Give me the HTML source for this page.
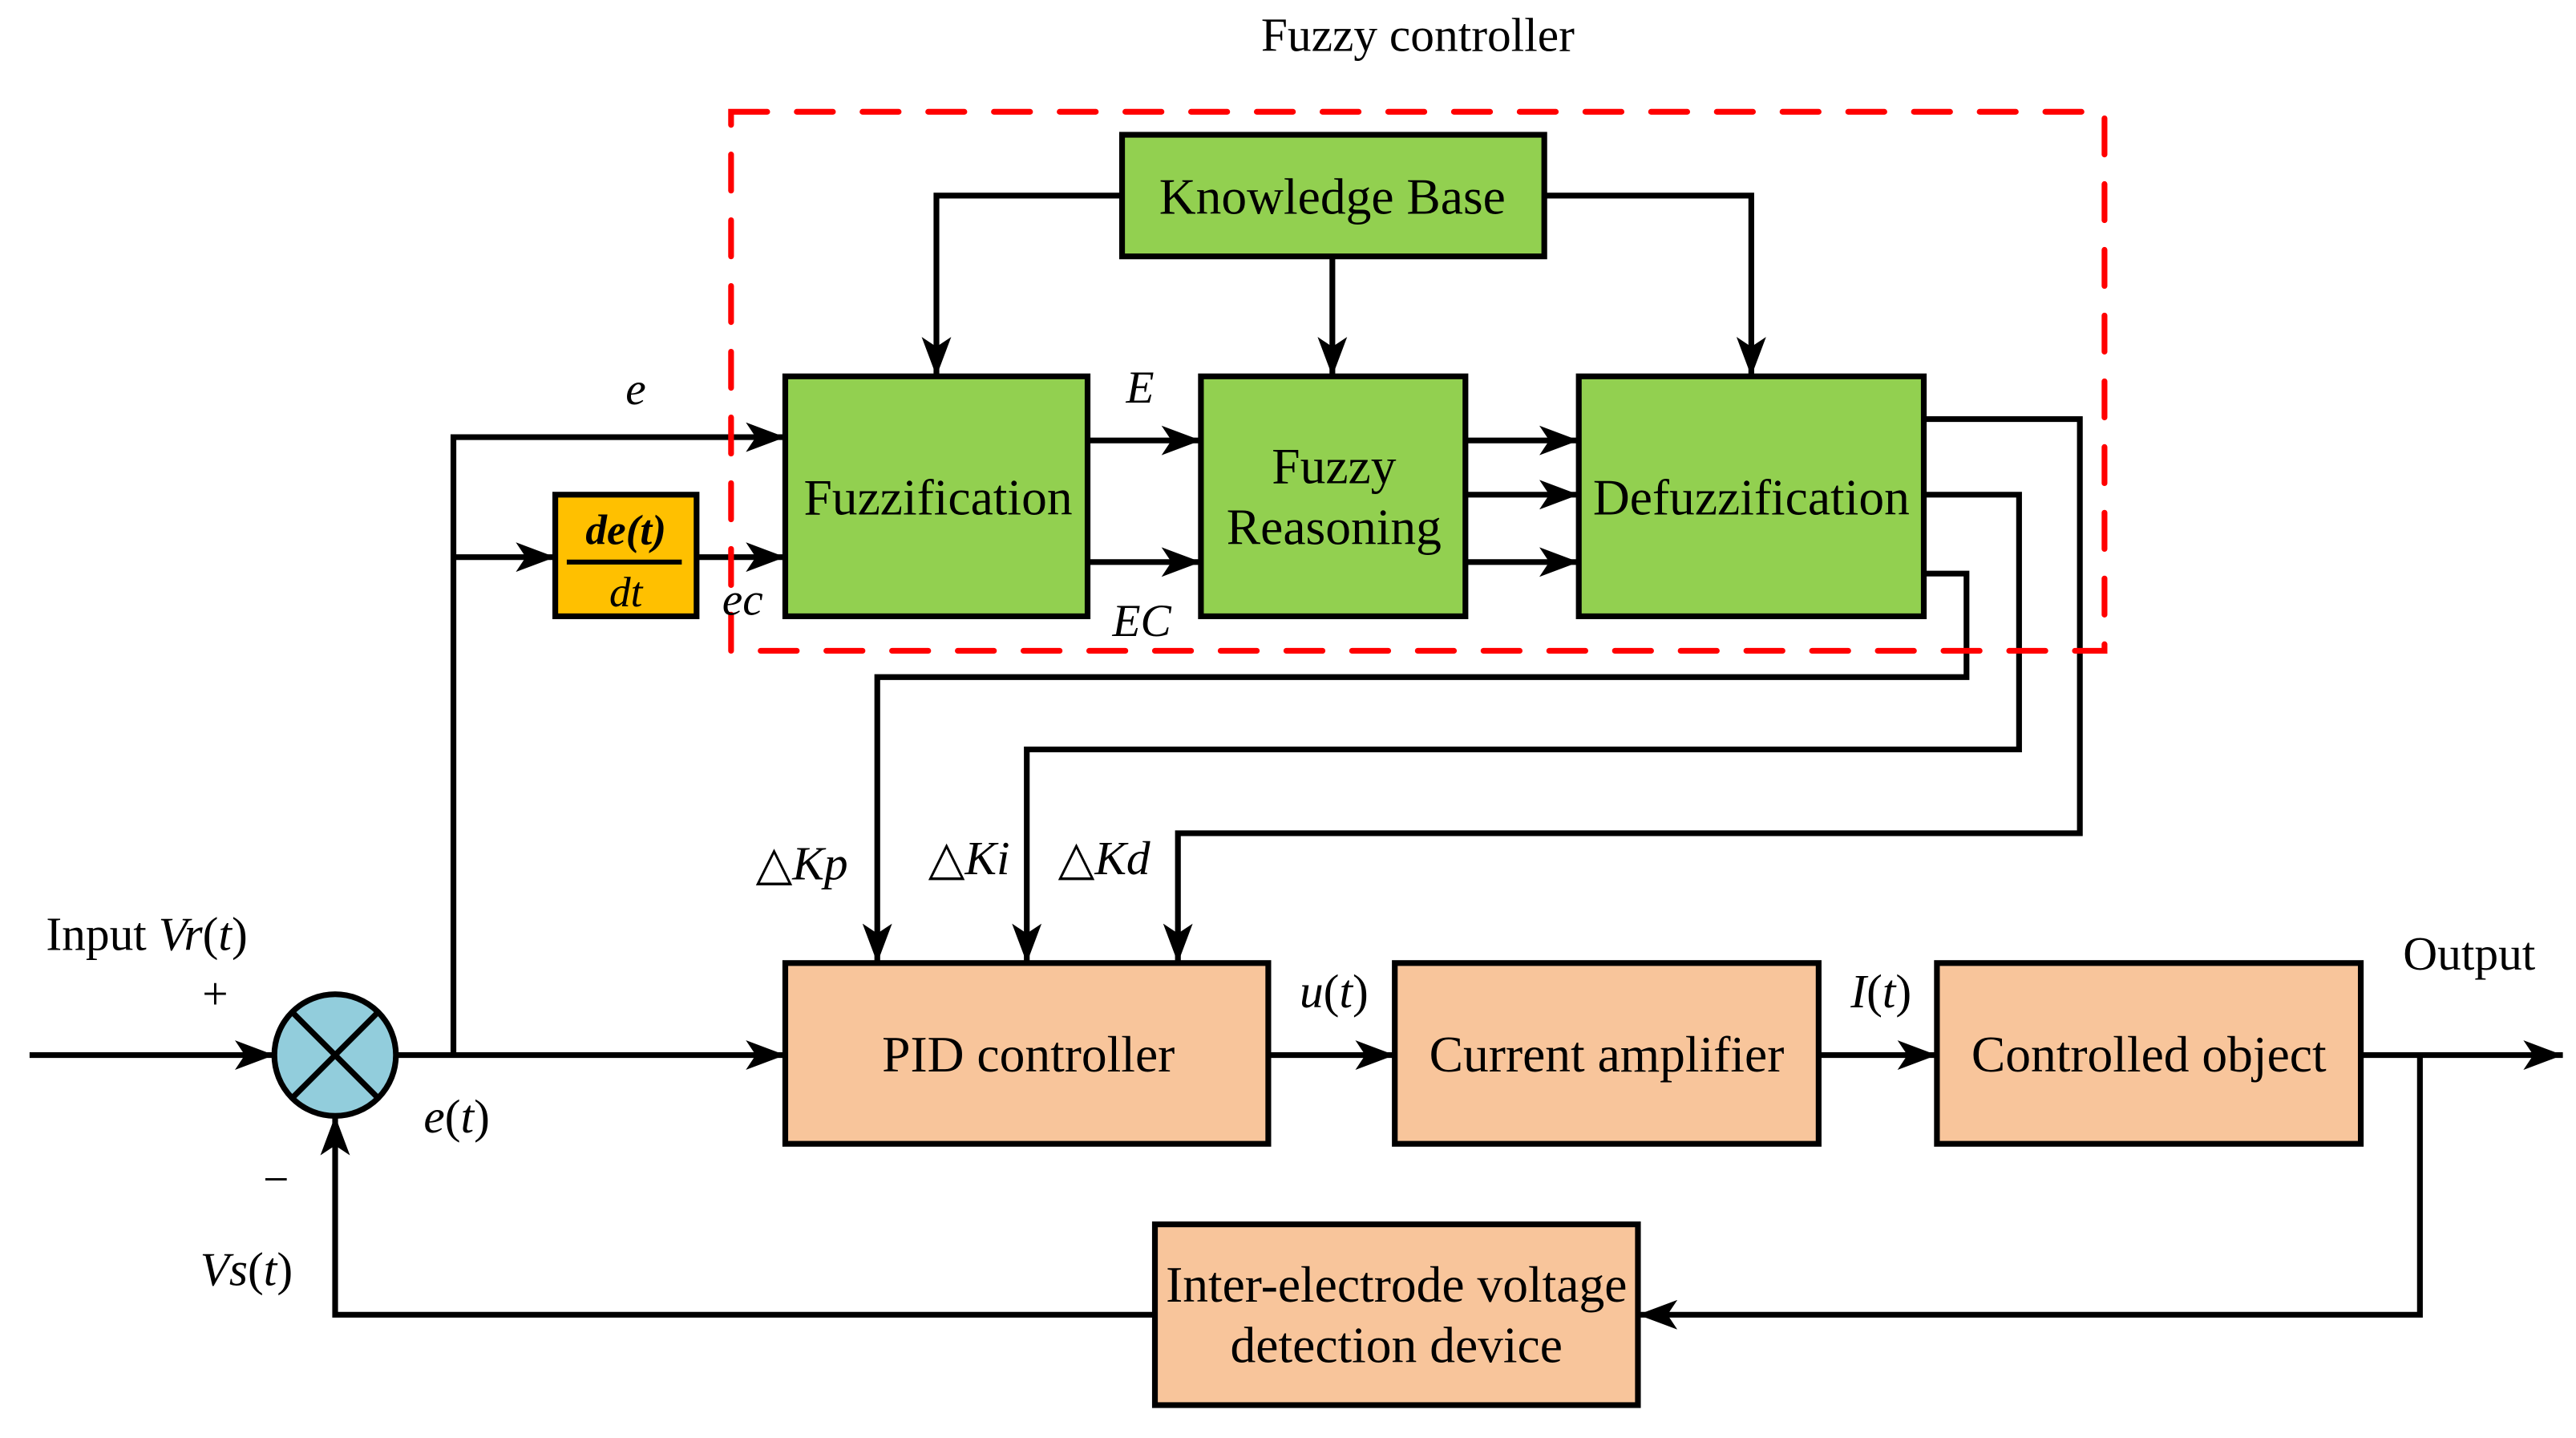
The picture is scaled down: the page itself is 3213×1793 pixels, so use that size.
<!DOCTYPE html>
<html><head><meta charset="utf-8"><style>
html,body{margin:0;padding:0;background:#fff;}
svg{display:block;}
text{font-family:"Liberation Serif",serif;fill:#000;}
.i{font-style:italic;}
</style></head><body>
<svg width="3213" height="1793" viewBox="0 0 1568 875" xmlns="http://www.w3.org/2000/svg">
<defs>
<marker id="a" viewBox="0 0 24 18" refX="24" refY="9" markerWidth="24" markerHeight="18" markerUnits="userSpaceOnUse" orient="auto">
<path d="M0,0 L24,9 L0,18 L6,9 Z" fill="#000"/>
</marker>
</defs>
<g stroke="#000" stroke-width="3.5" fill="none">
<rect x="683" y="82" width="257" height="74" fill="#92D050"/>
<rect x="478" y="229" width="184" height="146" fill="#92D050"/>
<rect x="731" y="229" width="161" height="146" fill="#92D050"/>
<rect x="961" y="229" width="210" height="146" fill="#92D050"/>
<rect x="338" y="301" width="86" height="74" fill="#FFC000"/>
<rect x="478" y="586" width="294" height="110" fill="#F8C59B"/>
<rect x="849" y="586" width="258" height="110" fill="#F8C59B"/>
<rect x="1179" y="586" width="258" height="110" fill="#F8C59B"/>
<rect x="703" y="745" width="294" height="110" fill="#F8C59B"/>
<circle cx="204" cy="642" r="37" fill="#92CDDC"/>
<line x1="178" y1="616" x2="230" y2="668"/><line x1="230" y1="616" x2="178" y2="668"/>
<line x1="345" y1="342" x2="415" y2="342" stroke-width="3"/>
<path d="M18,642 H167" marker-end="url(#a)"/>
<path d="M241,642 H478" marker-end="url(#a)"/>
<path d="M276,642 V266 H478" marker-end="url(#a)"/>
<path d="M276,339 H338" marker-end="url(#a)"/>
<path d="M424,339 H478" marker-end="url(#a)"/>
<path d="M683,119 H570 V229" marker-end="url(#a)"/>
<path d="M811,156 V229" marker-end="url(#a)"/>
<path d="M940,119 H1066 V229" marker-end="url(#a)"/>
<path d="M662,268 H731" marker-end="url(#a)"/>
<path d="M662,342 H731" marker-end="url(#a)"/>
<path d="M892,268 H961" marker-end="url(#a)"/>
<path d="M892,301 H961" marker-end="url(#a)"/>
<path d="M892,342 H961" marker-end="url(#a)"/>
<path d="M1171,255 H1266 V507 H717 V586" marker-end="url(#a)"/>
<path d="M1171,301 H1229 V456 H625 V586" marker-end="url(#a)"/>
<path d="M1171,349 H1197 V412 H534 V586" marker-end="url(#a)"/>
<path d="M772,642 H849" marker-end="url(#a)"/>
<path d="M1107,642 H1179" marker-end="url(#a)"/>
<path d="M1437,642 H1560" marker-end="url(#a)"/>
<path d="M1473,642 V800 H997" marker-end="url(#a)"/>
<path d="M703,800 H204 V679" marker-end="url(#a)"/>
</g>
<rect x="445" y="68" width="836" height="328" fill="none" stroke="#FF0000" stroke-width="3.5" stroke-dasharray="22,18" stroke-linecap="round"/>
<g font-size="31">
<text x="863" y="31" text-anchor="middle" font-size="29">Fuzzy controller</text>
<text x="811" y="130" text-anchor="middle">Knowledge Base</text>
<text x="571" y="313" text-anchor="middle">Fuzzification</text>
<text x="812" y="294" text-anchor="middle">Fuzzy</text>
<text x="812" y="331" text-anchor="middle">Reasoning</text>
<text x="1066" y="313" text-anchor="middle">Defuzzification</text>
<text x="626" y="652" text-anchor="middle">PID controller</text>
<text x="978" y="652" text-anchor="middle">Current amplifier</text>
<text x="1308" y="652" text-anchor="middle">Controlled object</text>
<text x="850" y="792" text-anchor="middle">Inter-electrode voltage</text>
<text x="850" y="829" text-anchor="middle">detection device</text>
<text x="381" y="331" text-anchor="middle" class="i" font-size="26" font-weight="bold">de(t)</text>
<text x="381" y="369" text-anchor="middle" class="i" font-size="26">dt</text>
<text x="387" y="246" text-anchor="middle" class="i" font-size="28">e</text>
<text x="694" y="245" text-anchor="middle" class="i" font-size="28">E</text>
<text x="452" y="374" text-anchor="middle" class="i" font-size="28">ec</text>
<text x="695" y="387" text-anchor="middle" class="i" font-size="28">EC</text>
<text x="460" y="535" font-size="29">△<tspan class="i">Kp</tspan></text>
<text x="565" y="532" font-size="29">△<tspan class="i">Ki</tspan></text>
<text x="644" y="532" font-size="29">△<tspan class="i">Kd</tspan></text>
<text x="28" y="578" font-size="29">Input <tspan class="i">Vr</tspan>(<tspan class="i">t</tspan>)</text>
<text x="131" y="614" text-anchor="middle" font-size="28">+</text>
<text x="278" y="689" text-anchor="middle" font-size="29"><tspan class="i">e</tspan>(<tspan class="i">t</tspan>)</text>
<text x="168" y="727" text-anchor="middle" font-size="28">−</text>
<text x="150" y="782" text-anchor="middle" font-size="29"><tspan class="i">Vs</tspan>(<tspan class="i">t</tspan>)</text>
<text x="812" y="613" text-anchor="middle" font-size="29"><tspan class="i">u</tspan>(<tspan class="i">t</tspan>)</text>
<text x="1145" y="613" text-anchor="middle" font-size="29"><tspan class="i">I</tspan>(<tspan class="i">t</tspan>)</text>
<text x="1503" y="590" text-anchor="middle" font-size="29">Output</text>
</g>
</svg>
</body></html>
